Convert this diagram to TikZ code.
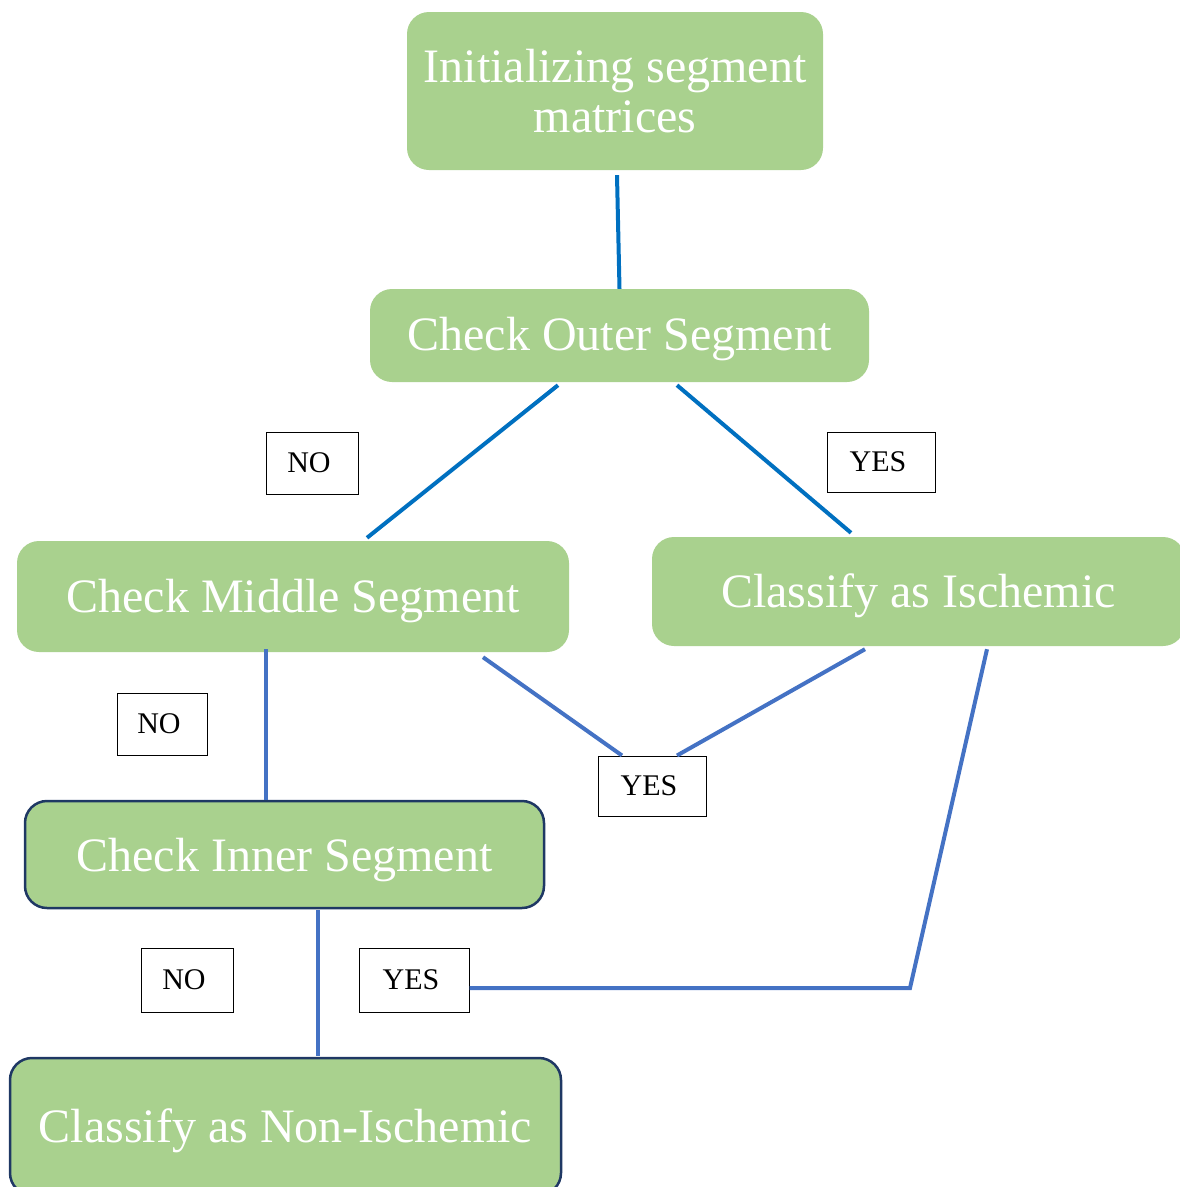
\documentclass[tikz,border=0pt]{standalone}
\usepackage{fontspec}
\setmainfont{Liberation Serif}
\usetikzlibrary{calc}
\definecolor{boxgreen}{HTML}{A9D18E}
\definecolor{blueA}{HTML}{0070C0}
\definecolor{blueB}{HTML}{4472C4}
\definecolor{navy}{HTML}{1F3864}
\newcommand{\lowertext}[2]{\raisebox{-#1}[\height][\depth]{#2}}
\newcommand{\lefttext}[1]{\kern-6pt #1}
\tikzset{
  stepbox/.style={fill=boxgreen, rounded corners=22pt, text=white, align=center, inner sep=0pt,
    font=\fontsize{48}{50}\selectfont},
  framedbox/.style={stepbox, draw=navy, line width=2.5pt},
  answer/.style={draw=black, fill=white, line width=1pt, inner sep=0pt, font=\fontsize{30}{32}\selectfont},
  linkA/.style={draw=blueA, line width=4pt},
  linkB/.style={draw=blueB, line width=4pt}
}
\begin{document}
\begin{tikzpicture}[x=1pt,y=-1pt]
\useasboundingbox (0,0) rectangle (1179,1187);
% main boxes
\node[stepbox, minimum width=416pt, minimum height=158pt] (init) at (615,91) {Initializing segment\\matrices};
\node[stepbox, minimum width=499pt, minimum height=93pt] (outer) at (619.5,335.5) {\lowertext{4pt}{Check Outer Segment}};
\node[stepbox, minimum width=552pt, minimum height=111pt] (middle) at (293,596.5) {\lowertext{5pt}{Check Middle Segment}};
\node[stepbox, minimum width=533pt, minimum height=109pt] (isch) at (918.5,591.5) {\lowertext{4pt}{Classify as Ischemic}};
\node[framedbox, minimum width=519pt, minimum height=107pt] (inner) at (284.5,854.5) {\lowertext{6pt}{Check Inner Segment}};
\node[framedbox, minimum width=551pt, minimum height=137pt] (nonisch) at (285.5,1126.5) {\lowertext{4pt}{Classify as Non-Ischemic}};
% answer labels
\node[answer, minimum width=92pt, minimum height=62pt] (no1) at (312,463) {\lefttext{NO}};
\node[answer, minimum width=108pt, minimum height=60pt] (yes1) at (881,462) {\lefttext{YES}};
\node[answer, minimum width=90pt, minimum height=62pt] (no2) at (162,724) {\lefttext{NO}};
\node[answer, minimum width=108pt, minimum height=60pt] (yes2) at (652,786) {\lefttext{YES}};
\node[answer, minimum width=92pt, minimum height=64pt] (no3) at (187,980) {\lefttext{NO}};
\node[answer, minimum width=110pt, minimum height=64pt] (yes3) at (414,980) {\lefttext{YES}};
% connectors
\draw[linkA] ($(init.south)+(2,5)$) -- (outer.north);
\draw[linkA] ($(outer.south)+(-61.5,3)$) -- ($(middle.north)+(74,-3)$);
\draw[linkA] ($(outer.south)+(57.5,3)$) -- ($(isch.north)+(-67.5,-4)$);
\draw[linkB] ($(middle.south)+(190,5)$) -- ($(yes2.north)+(-30,0)$);
\draw[linkB] ($(isch.south)+(-53.5,3)$) -- ($(yes2.north)+(25,0)$);
\draw[linkB] ($(middle.south)+(-27,-3)$) -- ($(inner.north)+(-18.5,0)$);
\coordinate (bend) at (910,988);
\draw[linkB] ($(isch.south)+(68.5,3)$) -- (bend) -- ($(yes3.east)+(0,8)$);
\draw[linkB] ($(inner.south)+(33.5,1)$) -- ($(nonisch.north)+(32.5,-1)$);
\end{tikzpicture}
\end{document}
